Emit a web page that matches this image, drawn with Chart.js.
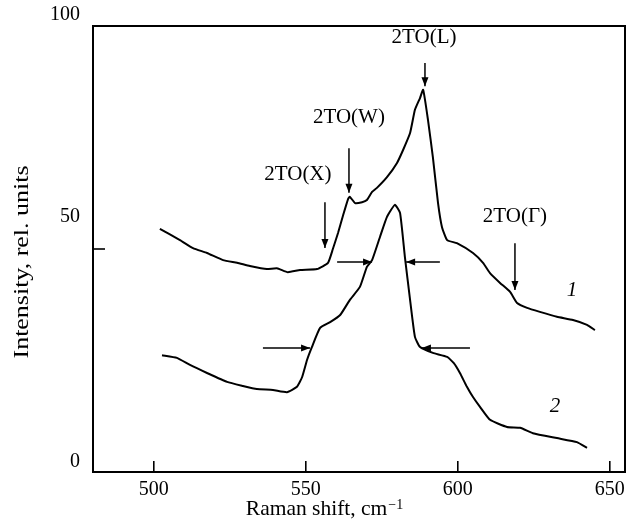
<!DOCTYPE html>
<html>
<head>
<meta charset="utf-8">
<script src="https://cdn.jsdelivr.net/npm/chart.js@4/dist/chart.umd.min.js"></script>
<style>
  html, body { margin: 0; padding: 0; background: #fff; }
  #wrap { width: 636px; height: 528px; }
</style>
</head>
<body>
<div id="wrap"><canvas id="c" width="636" height="528"></canvas></div>
<script>
// ---- Data ----
const ramanShift1 = [502.0, 508.6, 512.9, 517.5, 522.8, 527.4, 531.6, 537.2, 540.5, 544.1, 548.1, 553.7,
  557.3, 558.9, 560.6, 562.2, 563.9, 564.5, 566.2, 568.5, 570.1, 571.8, 573.4, 576.7, 580.0, 582.0,
  584.3, 585.9, 587.6, 588.6, 590.2, 591.8, 593.5, 594.8, 596.5, 599.7, 605.0, 608.3, 610.6, 613.9,
  617.2, 619.5, 622.8, 627.0, 632.6, 637.9, 642.5, 645.1];
const intensity1 = [54.5, 52.0, 50.2, 49.1, 47.5, 46.9, 46.2, 45.5, 45.7, 44.8, 45.3, 45.5,
  46.9, 50.0, 53.6, 57.4, 61.2, 61.7, 60.3, 60.5, 61.0, 62.8, 63.7, 66.1, 69.3, 72.2,
  76.0, 81.2, 83.9, 85.7, 78.9, 70.6, 60.3, 54.9, 52.0, 51.3, 49.1, 46.9, 44.6, 42.4,
  40.4, 37.9, 36.8, 35.9, 34.8, 34.1, 33.0, 31.8];

const ramanShift2 = [502.7, 507.6, 511.9, 517.5, 524.1, 529.3, 533.9, 539.2, 543.8, 547.1, 548.8, 550.4,
  552.0, 554.7, 558.0, 561.3, 564.5, 567.8, 570.1, 571.8, 574.4, 576.7, 579.3, 581.0, 582.6, 584.3,
  585.9, 587.6, 591.8, 596.5, 598.7, 600.7, 603.0, 605.0, 607.3, 610.6, 616.2, 620.5, 624.7, 632.6,
  639.2, 642.5];
const intensity2 = [26.2, 25.6, 24.0, 22.2, 20.2, 19.3, 18.6, 18.4, 17.9, 19.1, 21.3, 25.1,
  28.0, 32.3, 33.6, 35.2, 38.6, 41.5, 46.0, 47.5, 52.7, 57.2, 59.9, 58.1, 48.2, 38.6,
  30.3, 28.0, 26.7, 25.8, 24.4, 22.2, 19.1, 16.8, 14.6, 11.7, 10.1, 9.9, 8.7, 7.6,
  6.7, 5.4];

const xTickValues = [500, 550, 600, 650];
const yTickValues = [0, 50, 100];
const yTickLabels = ['0', '50', '100'];

// Peak annotations (vertical arrows)
const peakNames = ['2TO(X)', '2TO(W)', '2TO(L)', '2TO(Γ)'];
const peakLabelX = [547.4, 564.2, 588.9, 618.8];
const peakLabelY = [66.6, 79.4, 97.5, 57.2];
const peakArrowX = [556.3, 564.2, 589.2, 618.8];
const peakArrowFromY = [60.5, 72.6, 91.7, 51.3];
const peakArrowToY = [50.2, 62.6, 86.5, 40.8];

// Width arrows (horizontal)
const widthArrowY = [27.8, 47.1, 47.1, 27.8];
const widthArrowFromX = [535.9, 560.3, 594.1, 604.0];
const widthArrowToX = [551.4, 571.8, 583.0, 588.2];

// Curve labels
const curveNames = ['1', '2'];
const curveLabelX = [637.6, 632.0];
const curveLabelY = [40.8, 14.6];

const SERIF = '"Liberation Serif", "Times New Roman", serif';

function drawArrow(ctx, x1, y1, x2, y2) {
  ctx.beginPath(); ctx.moveTo(x1, y1); ctx.lineTo(x2, y2); ctx.stroke();
  const ang = Math.atan2(y2 - y1, x2 - x1), L = 9, W = 3.5;
  const bx = x2 - L * Math.cos(ang), by = y2 - L * Math.sin(ang);
  ctx.beginPath();
  ctx.moveTo(x2, y2);
  ctx.lineTo(bx + W * Math.sin(ang), by - W * Math.cos(ang));
  ctx.lineTo(bx - W * Math.sin(ang), by + W * Math.cos(ang));
  ctx.closePath(); ctx.fill();
}

const decor = {
  id: 'decor',
  afterDraw(chart) {
    const { ctx, chartArea: a, scales: { x, y } } = chart;
    ctx.save();
    ctx.strokeStyle = '#000'; ctx.fillStyle = '#000';
    // frame
    ctx.lineWidth = 2;
    ctx.strokeRect(a.left, a.top, a.right - a.left, a.bottom - a.top);
    // inward tick marks
    ctx.lineWidth = 1.6;
    xTickValues.forEach(v => {
      const px = x.getPixelForValue(v);
      ctx.beginPath(); ctx.moveTo(px, a.bottom); ctx.lineTo(px, a.bottom - 11); ctx.stroke();
    });
    yTickValues.forEach(v => {
      const py = y.getPixelForValue(v);
      ctx.beginPath(); ctx.moveTo(a.left, py); ctx.lineTo(a.left + 12, py); ctx.stroke();
    });
    // y tick labels (placed as in the original figure)
    const yShift = [-10, -32, -11];
    ctx.font = '20px ' + SERIF;
    ctx.textAlign = 'right'; ctx.textBaseline = 'middle';
    yTickValues.forEach((v, i) => {
      ctx.fillText(yTickLabels[i], a.left - 13, y.getPixelForValue(v) + yShift[i]);
    });
    // y axis title
    ctx.save();
    ctx.translate(22, (a.top + a.bottom) / 2 + 13);
    ctx.rotate(-Math.PI / 2);
    ctx.scale(1.18, 1);
    ctx.font = '22px ' + SERIF;
    ctx.textAlign = 'center'; ctx.textBaseline = 'middle';
    ctx.fillText('Intensity, rel. units', 0, 0);
    ctx.restore();
    // x axis title with superscript
    ctx.font = '21.5px ' + SERIF;
    const main = 'Raman shift, cm';
    const sup = '−1';
    const wMain = ctx.measureText(main).width;
    ctx.font = '14px ' + SERIF;
    const wSup = ctx.measureText(sup).width;
    const cx = (a.left + a.right) / 2 - 35;
    const startX = cx - (wMain + wSup) / 2;
    ctx.textAlign = 'left'; ctx.textBaseline = 'alphabetic';
    ctx.font = '21.5px ' + SERIF;
    ctx.fillText(main, startX, 515);
    ctx.font = '14px ' + SERIF;
    ctx.fillText(sup, startX + wMain + 1, 509);
    // peak labels and arrows
    ctx.font = '21px ' + SERIF;
    ctx.textAlign = 'center'; ctx.textBaseline = 'middle';
    peakNames.forEach((t, i) => {
      ctx.fillText(t, x.getPixelForValue(peakLabelX[i]), y.getPixelForValue(peakLabelY[i]));
    });
    ctx.lineWidth = 1.5;
    peakNames.forEach((t, i) => {
      const px = x.getPixelForValue(peakArrowX[i]);
      drawArrow(ctx, px, y.getPixelForValue(peakArrowFromY[i]), px, y.getPixelForValue(peakArrowToY[i]));
    });
    widthArrowY.forEach((v, i) => {
      const py = y.getPixelForValue(v);
      drawArrow(ctx, x.getPixelForValue(widthArrowFromX[i]), py, x.getPixelForValue(widthArrowToX[i]), py);
    });
    // curve numbers
    ctx.font = 'italic 21px ' + SERIF;
    curveNames.forEach((t, i) => {
      ctx.fillText(t, x.getPixelForValue(curveLabelX[i]), y.getPixelForValue(curveLabelY[i]));
    });
    ctx.restore();
  }
};

new Chart(document.getElementById('c'), {
  type: 'line',
  data: {
    datasets: [
      {
        label: '1',
        data: ramanShift1.map((v, i) => ({ x: v, y: intensity1[i] })),
        borderColor: '#000', borderWidth: 2, pointRadius: 0, tension: 0.15, fill: false
      },
      {
        label: '2',
        data: ramanShift2.map((v, i) => ({ x: v, y: intensity2[i] })),
        borderColor: '#000', borderWidth: 2, pointRadius: 0, tension: 0.15, fill: false
      }
    ]
  },
  options: {
    responsive: false,
    animation: false,
    events: [],
    layout: { padding: { top: 26, right: 11, left: 93, bottom: 0 } },
    plugins: { legend: { display: false }, tooltip: { enabled: false }, title: { display: false } },
    scales: {
      x: {
        type: 'linear', min: 480, max: 655,
        afterBuildTicks: s => { s.ticks = xTickValues.map(v => ({ value: v })); },
        afterFit: s => { s.height = 56; },
        grid: { display: false },
        border: { display: false },
        ticks: { color: '#000', padding: -2, font: { family: SERIF, size: 20 }, callback: v => String(v) }
      },
      y: {
        type: 'linear', min: 0, max: 100, display: false
      }
    }
  },
  plugins: [decor]
});
</script>
</body>
</html>
